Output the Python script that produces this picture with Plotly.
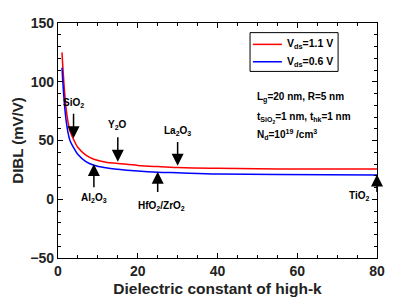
import plotly.graph_objects as go

k_vals = [1, 1.5, 2, 2.5, 3, 3.9, 5, 7, 9, 12, 15, 20, 25, 30, 40, 55, 80]
dibl_11 = [125, 98, 78, 66, 58, 51, 44, 37.5, 34, 31.5, 30.5, 28.8, 27.8, 27, 26.3, 25.8, 25.7]
dibl_06 = [112, 86, 68, 57, 50, 44, 38, 32, 29, 26.8, 25.5, 24, 23, 22.5, 21.5, 21, 20.7]
series_names = ["V<sub>ds</sub>=1.1 V", "V<sub>ds</sub>=0.6 V"]
series_colors = ["#ff0000", "#0000ff"]

FONT = "Liberation Sans, Arial, sans-serif"

fig = go.Figure()
for yv, nm, col in zip([dibl_11, dibl_06], series_names, series_colors):
    fig.add_trace(go.Scatter(x=k_vals, y=yv, mode="lines",
                             line=dict(color=col, width=1.5, shape="spline"),
                             name=nm, showlegend=False))

# manual legend box
fig.add_shape(type="rect", xref="paper", yref="paper", x0=0.602, x1=0.878, y0=0.794, y1=0.959,
              line=dict(color="black", width=1), fillcolor="white", layer="above")
leg_y = [0.909, 0.835]
for nm, col, yy in zip(series_names, series_colors, leg_y):
    fig.add_shape(type="line", xref="paper", yref="paper", x0=0.611, x1=0.702, y0=yy, y1=yy,
                  line=dict(color=col, width=1.5), layer="above")
    fig.add_annotation(x=0.712, y=yy, xref="paper", yref="paper", text=nm, showarrow=False,
                       xanchor="left", yanchor="middle",
                       font=dict(family=FONT, size=10.5, color="black", weight="bold"))

# (label, label x, label y, arrow x, tail y, head y)
materials = [
    ("SiO<sub>2</sub>", 3.9, 82, 3.9, 74, 52),
    ("Y<sub>2</sub>O", 15, 63, 15, 54, 32),
    ("La<sub>2</sub>O<sub>3</sub>", 30, 58, 30, 50, 28.5),
    ("Al<sub>2</sub>O<sub>3</sub>", 9, 1, 9, 9, 30),
    ("HfO<sub>2</sub>/ZrO<sub>2</sub>", 26, -6, 25, 5, 23.5),
    ("TiO<sub>2</sub>", 75.5, 3, 80, 5, 21),
]
for lab, lx, ly, axv, ty, hy in materials:
    fig.add_annotation(x=lx, y=ly, text=lab, showarrow=False, xref="x", yref="y",
                       font=dict(family=FONT, size=10, color="black", weight="bold"))
    fig.add_annotation(x=axv, y=hy, ax=axv, ay=ty, axref="x", ayref="y", xref="x", yref="y",
                       text="", showarrow=True, arrowhead=2, arrowsize=1.6, arrowwidth=1.5,
                       arrowcolor="black")

info = ["L<sub>g</sub>=20 nm, R=5 nm",
        "t<sub>SiO<sub>2</sub></sub>=1 nm, t<sub>hk</sub>=1 nm",
        "N<sub>d</sub>=10<sup>19</sup> /cm<sup>3</sup>"]
info_y = [0.683, 0.597, 0.527]
for t, yy in zip(info, info_y):
    fig.add_annotation(x=0.618, y=yy, xref="paper", yref="paper", text=t, showarrow=False,
                       xanchor="left", yanchor="middle",
                       font=dict(family=FONT, size=10, color="black", weight="bold"))

axis_common = dict(showline=True, linecolor="black", linewidth=1.2, mirror="ticks",
                   ticks="inside", ticklen=5, tickwidth=1, tickcolor="black",
                   showgrid=False, zeroline=False, ticklabeloverflow="allow",
                   tickfont=dict(family=FONT, size=14, color="#222", weight="bold"))

fig.update_xaxes(range=[0, 80], dtick=20, tick0=0,
                 minor=dict(dtick=5, ticks="inside", ticklen=3, tickcolor="black", showgrid=False),
                 title=dict(text="Dielectric constant of high-k", standoff=5,
                            font=dict(family=FONT, size=15.5, color="#222", weight="bold")),
                 **axis_common)
fig.update_yaxes(range=[-50, 150], dtick=50, tick0=0,
                 minor=dict(dtick=10, ticks="inside", ticklen=3, tickcolor="black", showgrid=False),
                 title=dict(text="DIBL (mV/V)", standoff=3,
                            font=dict(family=FONT, size=15, color="#222", weight="bold")),
                 **axis_common)

fig.update_layout(width=387, height=300, margin=dict(l=50, r=18, t=7, b=50),
                  plot_bgcolor="white", paper_bgcolor="white", showlegend=False)

fig.write_html("out.html")
